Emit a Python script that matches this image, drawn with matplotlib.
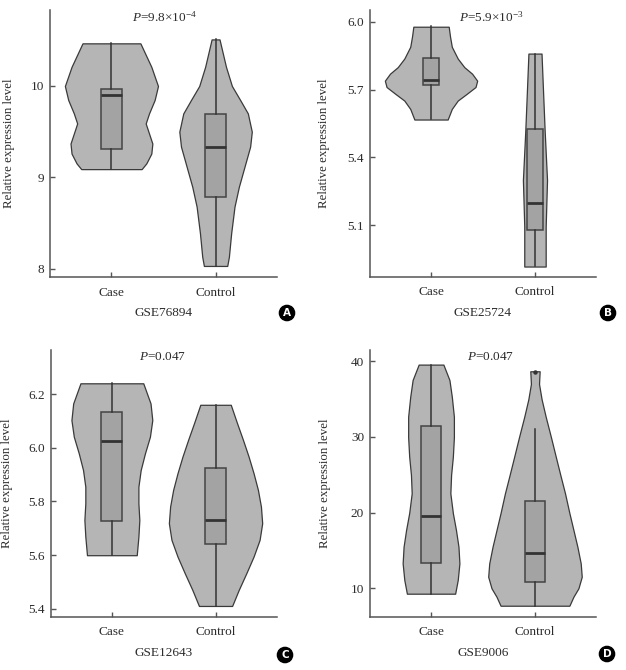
import matplotlib

matplotlib.use("Agg")
import matplotlib.pyplot as plt

plt.rcParams["font.family"] = ["Liberation Serif", "DejaVu Serif"]
plt.rcParams["mathtext.fontset"] = "custom"
plt.rcParams["mathtext.rm"] = "Liberation Serif"
plt.rcParams["mathtext.it"] = "Liberation Serif:italic"

GROUPS = ["Case", "Control"]

# violin outlines: levels (y) and half widths (x units)
A_CASE_Y = [9.09, 9.153, 9.26, 9.37, 9.48, 9.59, 9.70, 9.847, 10.0, 10.21, 10.467]
A_CASE_W = [0.29, 0.335, 0.383, 0.393, 0.361, 0.329, 0.361, 0.415, 0.447, 0.383, 0.278]
A_CTRL_Y = [8.03, 8.13, 8.39, 8.68, 8.898, 9.117, 9.336, 9.5, 9.70, 9.847, 10.0, 10.21, 10.51]
A_CTRL_W = [0.112, 0.128, 0.15, 0.182, 0.224, 0.278, 0.332, 0.348, 0.31, 0.236, 0.157, 0.10, 0.038]

B_CASE_Y = [5.568, 5.615, 5.652, 5.682, 5.712, 5.74, 5.771, 5.80, 5.838, 5.89, 5.935, 5.979]
B_CASE_W = [0.16, 0.2, 0.257, 0.344, 0.428, 0.444, 0.395, 0.32, 0.257, 0.2, 0.183, 0.17]
B_CTRL_Y = [4.917, 5.094, 5.30, 5.52, 5.70, 5.86]
B_CTRL_W = [0.103, 0.103, 0.116, 0.093, 0.077, 0.063]

C_CASE_Y = [5.60, 5.669, 5.731, 5.793, 5.855, 5.917, 5.979, 6.041, 6.103, 6.165, 6.24]
C_CASE_W = [0.24, 0.256, 0.265, 0.256, 0.256, 0.278, 0.319, 0.367, 0.39, 0.373, 0.303]
C_CTRL_Y = [5.411, 5.471, 5.533, 5.595, 5.657, 5.719, 5.781, 5.843, 5.905, 5.967, 6.029, 6.091, 6.16]
C_CTRL_W = [0.16, 0.224, 0.297, 0.367, 0.425, 0.45, 0.438, 0.409, 0.367, 0.319, 0.265, 0.208, 0.147]

D_CASE_Y = [9.29, 11.1, 13.3, 15.5, 17.7, 19.95, 22.55, 24.97, 27.39, 29.95, 32.68, 35.32, 37.53, 39.56]
D_CASE_W = [0.232, 0.257, 0.273, 0.264, 0.24, 0.21, 0.186, 0.193, 0.21, 0.22, 0.22, 0.2, 0.177, 0.119]
D_CTRL_Y = [7.70, 8.89, 10.0, 11.53, 13.3, 15.5, 17.7, 19.95, 22.55, 24.97, 27.39, 29.95, 32.68, 34.97, 37.0, 38.68]
D_CTRL_W = [0.331, 0.37, 0.418, 0.45, 0.44, 0.408, 0.37, 0.331, 0.289, 0.244, 0.2, 0.154, 0.103, 0.064, 0.039, 0.045]

# box stats: whisker low, q1, median, q3, whisker high
A_BOX = [[9.09, 9.31, 9.90, 9.97, 10.47], [8.03, 8.78, 9.33, 9.69, 10.51]]
B_BOX = [[5.57, 5.72, 5.742, 5.839, 5.98], [4.92, 5.08, 5.199, 5.525, 5.86]]
C_BOX = [[5.60, 5.727, 6.026, 6.134, 6.24], [5.41, 5.641, 5.731, 5.923, 6.16]]
D_BOX = [[9.29, 13.4, 19.6, 31.4, 39.56], [7.70, 10.8, 14.7, 21.6, 31.1]]
D_FLIERS = [[], [38.6]]

A_TICKS = [8, 9, 10]
B_TICKS = [5.1, 5.4, 5.7, 6.0]
C_TICKS = [5.4, 5.6, 5.8, 6.0, 6.2]
D_TICKS = [10, 20, 30, 40]

TEXT = "#2b2b2b"
VIOLIN = "#b5b5b5"
BOXFILL = "#a3a3a3"
EDGE = "#3a3a3a"
W, H = 626, 670


def panel(rect, violins, boxes, fliers, ylim, ticks, ticklabels, ptext, gse, letter,
          ylab_x, box_w=0.2):
    left, top, right, bottom = rect
    ax = fig.add_axes([left / W, 1 - bottom / H, (right - left) / W, (bottom - top) / H])
    for pos, (ys, ws) in enumerate(violins, start=1):
        ax.fill_betweenx(ys, [pos - w for w in ws], [pos + w for w in ws],
                         facecolor=VIOLIN, edgecolor=EDGE, lw=0.9, zorder=1)
    stats = []
    for b, fl in zip(boxes, fliers):
        stats.append({"whislo": b[0], "q1": b[1], "med": b[2], "q3": b[3],
                      "whishi": b[4], "fliers": fl})
    ax.bxp(stats, positions=[1, 2], widths=box_w, patch_artist=True, showcaps=False,
           boxprops=dict(facecolor=BOXFILL, edgecolor="#444444", lw=1.1),
           medianprops=dict(color="#333333", lw=2),
           whiskerprops=dict(color="#333333", lw=1.1),
           flierprops=dict(marker="o", ms=2.2, mfc="#333333", mec="#333333"),
           zorder=2)
    ax.set_xlim(0.41, 2.59)
    ax.set_ylim(*ylim)
    ax.set_yticks(ticks)
    ax.set_yticklabels(ticklabels)
    ax.set_xticks([1, 2])
    ax.set_xticklabels(GROUPS)
    ax.tick_params(direction="in", length=3.5, width=1, color="#555555",
                   labelsize=9.5, labelcolor=TEXT)
    ax.tick_params(axis="x", pad=7)
    ax.tick_params(axis="y", pad=4)
    ax.spines[["top", "right"]].set_visible(False)
    for s in ("left", "bottom"):
        ax.spines[s].set_color("#555555")
        ax.spines[s].set_linewidth(1.1)
    ax.set_ylabel("Relative expression level", fontsize=9.3, color=TEXT)
    ax.yaxis.set_label_coords(ylab_x, 0.5)
    ax.set_xlabel(gse, fontsize=9.5, color=TEXT, labelpad=6)
    fig.text(ptext[0] / W, 1 - ptext[1] / H, ptext[2], ha="center", va="center",
             fontsize=9.5, color=TEXT)
    fig.text(letter[0] / W, 1 - letter[1] / H, letter[2], ha="center", va="center",
             fontsize=7.5, color="white", fontweight="bold", family="DejaVu Sans",
             bbox=dict(boxstyle="circle,pad=0.25", fc="black", ec="black"))
    return ax


fig = plt.figure(figsize=(W / 100, H / 100), dpi=100)

panel((50, 10, 277, 277),
      [(A_CASE_Y, A_CASE_W), (A_CTRL_Y, A_CTRL_W)], A_BOX, [[], []],
      (7.909, 10.832), A_TICKS, ["8", "9", "10"],
      (164, 17, r"$P$=9.8×10$^{-4}$"), "GSE76894", (287, 313, "A"), -0.155)

panel((369.7, 10, 596.3, 276.7),
      [(B_CASE_Y, B_CASE_W), (B_CTRL_Y, B_CTRL_W)], B_BOX, [[], []],
      (4.872, 6.053), B_TICKS, ["5.1", "5.4", "5.7", "6.0"],
      (491, 17, r"$P$=5.9×10$^{-3}$"), "GSE25724", (608, 313, "B"), -0.177,
      box_w=0.16)

panel((50.7, 350, 276.7, 616.7),
      [(C_CASE_Y, C_CASE_W), (C_CTRL_Y, C_CTRL_W)], C_BOX, [[], []],
      (5.371, 6.364), C_TICKS, ["5.4", "5.6", "5.8", "6.0", "6.2"],
      (163, 357, r"$P$=0.047"), "GSE12643", (285, 655, "C"), -0.168)

panel((369.7, 350, 596.3, 616.7),
      [(D_CASE_Y, D_CASE_W), (D_CTRL_Y, D_CTRL_W)], D_BOX, D_FLIERS,
      (6.25, 41.49), D_TICKS, ["10", "20", "30", "40"],
      (491, 357, r"$P$=0.047"), "GSE9006", (607, 654, "D"), -0.17)

fig.savefig("out.png", dpi=100)
